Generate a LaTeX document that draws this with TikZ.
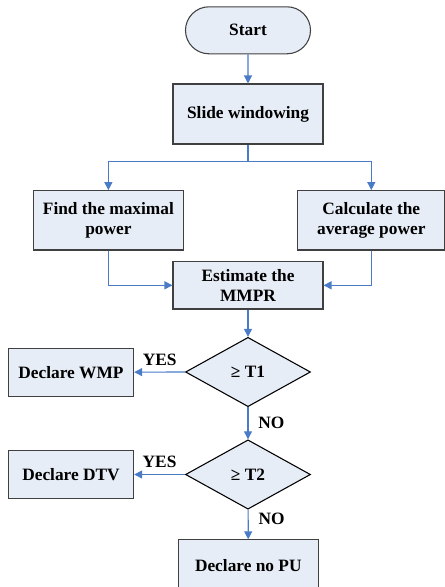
\documentclass[tikz,border=0pt]{standalone}
\usepackage{fontspec}
\setmainfont{Liberation Serif}
\usepackage{tikz}
\usetikzlibrary{arrows.meta, calc, positioning, shapes.geometric, shapes.misc}
\definecolor{flowfill}{rgb}{0.906, 0.929, 0.965}
\definecolor{flowblue}{rgb}{0.290, 0.482, 0.776}
\definecolor{flowgrey}{rgb}{0.25, 0.25, 0.25}

\begin{document}
\begin{tikzpicture}[
				x=0.75pt, y=-0.75pt,
				texts/.style = {text=black, font=\fontsize{13}{15.2}\selectfont\bfseries},
				labeltexts/.style = {texts},
				flowline/.style = {draw=flowblue, line width=0.9pt, -{Triangle[length=6pt, width=6pt]}},
				flownode/.style = {texts, rectangle, align=center, fill=flowfill, draw=flowgrey, line width=0.8pt, inner sep=0pt},
				startnode/.style = {flownode, rounded rectangle},
				decisionnode/.style = {flownode, diamond, draw=black, minimum width=93.75pt, minimum height=52pt}
				]
				\useasboundingbox (0,0) rectangle (445,587);
				\node[startnode, minimum width=93.75pt, minimum height=35.25pt] (start) at (248,30.3) {Start};
				\node[flownode, minimum width=112.5pt, minimum height=45pt] (slide) at (248,114) {Slide windowing};
				\node[flownode, minimum width=112.5pt, minimum height=44.5pt] (maxpow) at (108.4,220.3) {Find the maximal\\power};
				\node[flownode, minimum width=110.5pt, minimum height=44.5pt] (avgpow) at (371.3,220.3) {Calculate the\\average power};
				\node[flownode, minimum width=112.5pt, minimum height=35.5pt] (mmpr) at (248,285.3) {Estimate the\\MMPR};
				\node[decisionnode] (tone) at (248,372) {≥ T1};
				\node[flownode, minimum width=94pt, minimum height=35.75pt] (wmp) at (71,372.2) {Declare WMP};
				\node[decisionnode] (ttwo) at (248,474.5) {≥ T2};
				\node[flownode, minimum width=94pt, minimum height=35.75pt] (dtv) at (71,474.5) {Declare DTV};
				\node[flownode, minimum width=105pt, minimum height=38.5pt] (nopu) at (248.3,565.5) {Declare no PU};
				
				\coordinate (fork) at ($(slide.south)+(0,17.3)$);
				\draw[flowline] (start) -- (slide);
				\draw[flowline] (slide.south) -- (fork) -| (maxpow.north);
				\draw[flowline] (fork) -| (avgpow.north);
				\draw[flowline] (maxpow.south) |- (mmpr.west);
				\draw[flowline] (avgpow.south) |- (mmpr.east);
				\draw[flowline] (mmpr) -- (tone);
				\draw[flowline] (tone) -- node[labeltexts, above=1pt] {YES} (wmp);
				\draw[flowline] (tone) -- node[labeltexts, right=4pt] {NO} (ttwo);
				\draw[flowline] (ttwo) -- node[labeltexts, above=1pt] {YES} (dtv);
				\draw[flowline] (ttwo) -- node[labeltexts, right=4pt, pos=0.3] {NO} (nopu);
				\end{tikzpicture}
\end{document}
